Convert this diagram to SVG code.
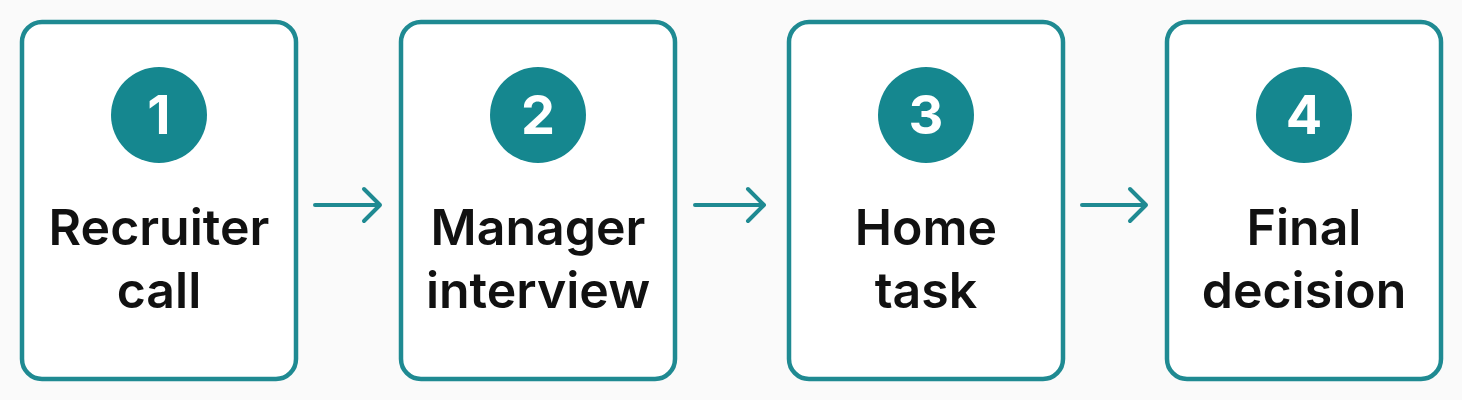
<svg xmlns="http://www.w3.org/2000/svg" width="1462" height="400" viewBox="0 0 1462 400">
<style>
.box{fill:#fff;stroke:#1f8a92;stroke-width:4.5}
.num{fill:#15878f}
.nt{font-family:Inter,"Liberation Sans",sans-serif;font-weight:700;font-size:54px;fill:#fff;text-anchor:middle}
.lb{font-family:Inter,"Liberation Sans",sans-serif;font-weight:600;font-size:50px;fill:#111;text-anchor:middle}
.ar{stroke:#1f8a92;stroke-width:4;fill:none;stroke-linecap:round;stroke-linejoin:round}
</style>
<rect width="1462" height="400" fill="#fafafa"/>
<g id="n1"><rect class="box" x="22" y="22" width="274" height="357" rx="20"/><circle class="num" cx="159" cy="115" r="48"/><text class="nt" x="159" y="134">1</text><text class="lb" x="159" y="245">Recruiter</text><text class="lb" x="159" y="308">call</text></g>
<g id="n2"><rect class="box" x="401" y="22" width="274" height="357" rx="20"/><circle class="num" cx="538" cy="115" r="48"/><text class="nt" x="538" y="134">2</text><text class="lb" x="538" y="245">Manager</text><text class="lb" x="538" y="308">interview</text></g>
<g id="n3"><rect class="box" x="789" y="22" width="274" height="357" rx="20"/><circle class="num" cx="926" cy="115" r="48"/><text class="nt" x="926" y="134">3</text><text class="lb" x="926" y="245">Home</text><text class="lb" x="926" y="308">task</text></g>
<g id="n4"><rect class="box" x="1167" y="22" width="274" height="357" rx="20"/><circle class="num" cx="1304" cy="115" r="48"/><text class="nt" x="1304" y="134">4</text><text class="lb" x="1304" y="245">Final</text><text class="lb" x="1304" y="308">decision</text></g>
<g id="connectors">
<path class="ar" d="M315 205H380M364 189L380 205L364 221"/>
<path class="ar" d="M695 205H764M748 189L764 205L748 221"/>
<path class="ar" d="M1082 205H1146M1130 189L1146 205L1130 221"/>
</g>
</svg>
